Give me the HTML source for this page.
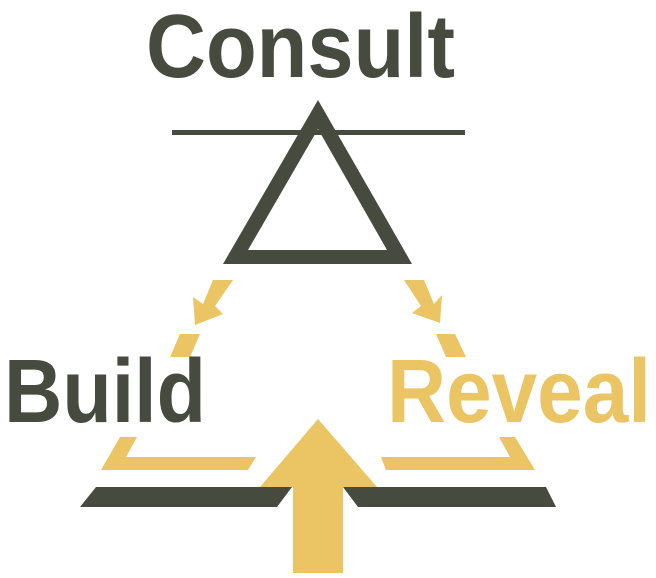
<!DOCTYPE html>
<html><head><meta charset="utf-8"><style>
html,body{margin:0;padding:0;background:#fff;}
body{width:656px;height:578px;overflow:hidden;position:relative;}
svg{position:absolute;left:0;top:0;}
text{font-family:"Liberation Sans",sans-serif;font-weight:bold;}
</style></head><body>
<svg width="656" height="578" viewBox="0 0 656 578">
<text x="146" y="77" font-size="90" fill="#474a3f" textLength="309" lengthAdjust="spacingAndGlyphs">Consult</text>
<rect x="172" y="130" width="293" height="5" fill="#474a3f"/>
<path fill-rule="evenodd" fill="#474a3f" d="M318,100 L412,264 L223,264 Z M318,129 L248,250 L387,250 Z"/>
<polygon fill="#ebc563" points="213,280 233,280 215,306 223,314 195,325 193,297 203,304"/>
<polygon fill="#ebc563" points="404,280 424,280 434,304 442,295 440,323 412,313 421,306"/>
<polygon fill="#ebc563" points="180,334 200,334 190,357 170,357"/>
<polygon fill="#ebc563" points="436,334 455,334 466,357 446,357"/>
<text x="4" y="422" font-size="90" fill="#474a3f" textLength="202" lengthAdjust="spacingAndGlyphs">Build</text>
<text x="387" y="422" font-size="90" fill="#ebc563" textLength="264" lengthAdjust="spacingAndGlyphs">Reveal</text>
<polygon fill="#ebc563" points="120,437 137,437 126,457 256,457 248,470 101,470"/>
<polygon fill="#ebc563" points="499,437 515,437 535,470 386,470 381,457 510,457"/>
<polygon fill="#474a3f" points="96,487 292,487 277,507 80,507"/>
<polygon fill="#474a3f" points="343,487 546,487 556,507 358,507"/>
<polygon fill="#ebc563" points="318,419 377,487 343,487 343,573 293,573 293,487 260,487"/>
</svg>
</body></html>
